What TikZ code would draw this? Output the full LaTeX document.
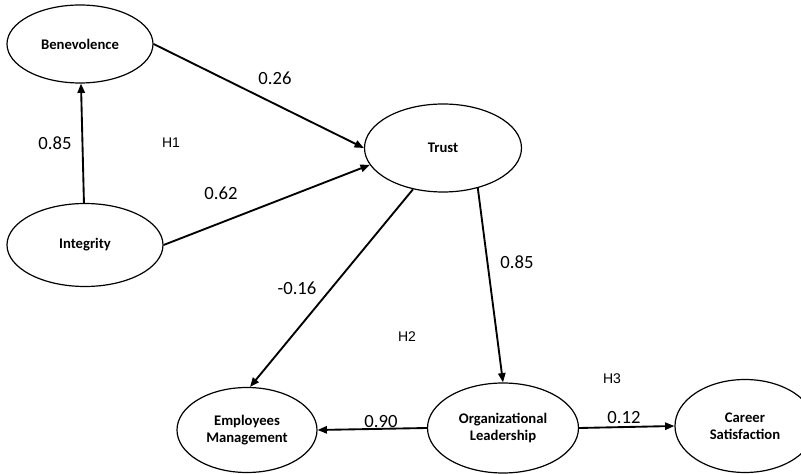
\documentclass[tikz,border=0pt]{standalone}
\usepackage{fontspec}
\setmainfont{Carlito}
\newfontfamily\hfont{Liberation Sans}
\usepackage{tikz}
\usetikzlibrary{shapes.geometric,arrows.meta,positioning}

\begin{document}
\begin{tikzpicture}[
    x=0.75pt, y=-0.75pt,
    latent/.style={ellipse, draw, line width=0.9pt, inner sep=0pt, align=center,
        font=\fontsize{11}{12.75}\selectfont\bfseries},
    coef/.style={font=\fontsize{14}{16}\selectfont},
    hyp/.style={font=\hfont\fontsize{10.5}{12}\selectfont},
    arrow/.style={-{Triangle[length=7pt, width=5.5pt]}, line width=1.4pt}
]
\clip (0,0) rectangle (801,474);
\useasboundingbox (0,0) rectangle (801,474);

\node[latent, minimum width=109.5pt, minimum height=58.5pt] (benev) at (80,44) {Benevolence};
\node[latent, minimum width=117pt, minimum height=62.25pt] (integ) at (85,245) {Integrity};
\node[latent, minimum width=117.75pt, minimum height=66pt] (trust) at (443,148) {Trust};
\node[latent, minimum width=105pt, minimum height=63.75pt] (emp) at (247,430) {Employees\\Management};
\node[latent, minimum width=113.25pt, minimum height=67.5pt] (org) at (503,428) {Organizational\\Leadership};
\node[latent, minimum width=105pt, minimum height=69.75pt] (career) at (745,426) {Career\\Satisfaction};

\draw[arrow] (integ) -- (benev);
\draw[arrow] (benev.east) -- (trust.west);
\draw[arrow] (integ.east) -- (trust.193);
\draw[arrow] (trust.234) -- (emp.86);
\draw[arrow] (trust.311) -- (org.north);
\draw[arrow] (org.west) -- (emp.east);
\draw[arrow] (org.east) -- (career.west);

% path coefficients
\node[coef] (c1) at (55,143) {0.85};
\node[coef] (c2) at (275,78) {0.26};
\node[coef] (c3) at (221,193) {0.62};
\node[coef] (c4) at (297,288) {-0.16};
\node[coef] (c5) at (517,262) {0.85};
\node[coef] (c6) at (381,422) {0.90};
\node[coef] (c7) at (624,418) {0.12};

% hypotheses
\node[hyp] (h1) at (171,143) {H1};
\node[hyp] (h2) at (407,337) {H2};
\node[hyp] (h3) at (612,379) {H3};
\end{tikzpicture}
\end{document}
